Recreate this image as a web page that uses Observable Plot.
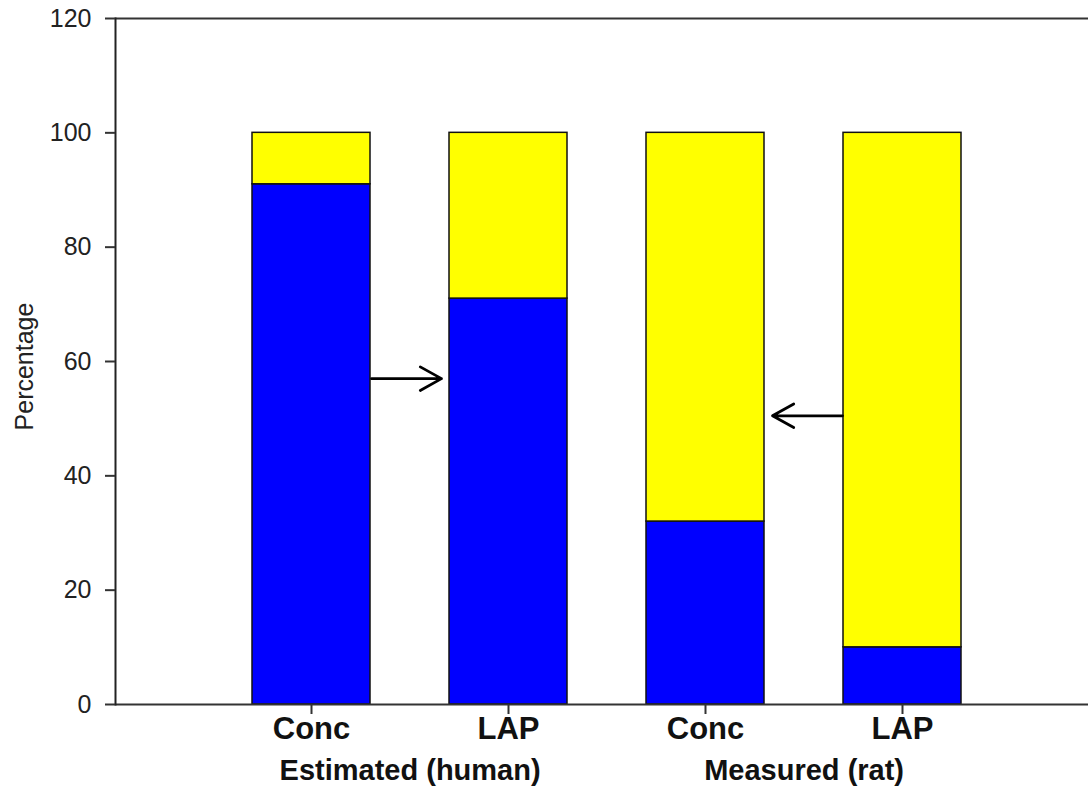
<!DOCTYPE html>
<html><head><meta charset="utf-8">
<script src="https://cdn.jsdelivr.net/npm/d3@7"></script>
<script src="https://cdn.jsdelivr.net/npm/@observablehq/plot@0.6"></script>
<style>
  body { margin: 0; background: #fff; }
  #chart svg { display: block; }
</style>
</head><body><div id="chart"></div>
<script>
// ---- data ----
const groups = ["Estimated (human)", "Estimated (human)", "Measured (rat)", "Measured (rat)"];
const categories = ["Conc", "LAP", "Conc", "LAP"];
const seriesNames = ["Lower", "Upper"];
const lowerValues = [91, 71, 32, 10];
const upperValues = [9, 29, 68, 90];
const yTicks = [0, 20, 40, 60, 80, 100, 120];
const groupNames = ["Estimated (human)", "Measured (rat)"];
// arrows: from bar index -> to bar index, at percentage level
const arrowFrom = [0, 3];
const arrowTo = [1, 2];
const arrowLevel = [57, 50.5];

// ---- build tables ----
const keys = categories.map((c, i) => groups[i] + "|" + c);
const rows = [];
keys.forEach((k, i) => {
  rows.push({key: k, series: seriesNames[0], value: lowerValues[i]});
});
keys.forEach((k, i) => {
  rows.push({key: k, series: seriesNames[1], value: upperValues[i]});
});
const arrows = arrowFrom.map((f, i) => ({from: keys[f], to: keys[arrowTo[i]], y: arrowLevel[i]}));
const groupLabels = groupNames.map(g => ({name: g, key: keys[groups.indexOf(g)]}));

const W = 1088, H = 788;
const mL = 115, mR = 0, mT = 18, mB = 84;
const padIn = 0.4, padOut = 0.667, align = 0.52;
const step = (W - mL - mR) / (keys.length - padIn + 2 * padOut);

const font = "'Liberation Sans', Arial, Helvetica, sans-serif";

const chart = Plot.plot({
  width: W, height: H,
  marginLeft: mL, marginRight: mR, marginTop: mT, marginBottom: mB,
  style: {fontFamily: font, background: "#fff", color: "#000", overflow: "visible"},
  x: {domain: keys, paddingInner: padIn, paddingOuter: padOut, align: align, axis: null},
  y: {domain: [0, 120], axis: null},
  color: {domain: seriesNames, range: ["#0000ff", "#ffff00"]},
  marks: [
    Plot.barY(rows, Plot.stackY({x: "key", y: "value", fill: "series", stroke: "#111", strokeWidth: 1.5})),
    Plot.ruleY([0, 120], {stroke: "#333", strokeWidth: 2}),
    Plot.frame({anchor: "left", stroke: "#222", strokeWidth: 2}),
    Plot.axisY(yTicks, {
      tickSize: 10, tickPadding: 14, fontSize: 25, stroke: "#333", strokeWidth: 2,
      fill: "#222", label: null, tickFormat: d => String(d)
    }),
    Plot.axisX({
      tickSize: 10, tickPadding: 2, fontSize: 31, fontWeight: "bold", stroke: "#333", strokeWidth: 2,
      fill: "#111", label: null, tickFormat: k => k.split("|")[1]
    }),
    Plot.text(["Percentage"], {
      frameAnchor: "left", textAnchor: "middle", rotate: -90, dx: -91, dy: 5, text: d => d,
      fontSize: 25, fill: "#222", lineAnchor: "middle"
    }),
    Plot.text(groupLabels, {
      x: "key", text: "name", frameAnchor: "bottom", dx: step / 2, dy: 66,
      fontSize: 29, fontWeight: "bold", fill: "#111", lineAnchor: "middle"
    }),
    Plot.arrow(arrows, {
      x1: "from", x2: "to", y: "y", stroke: "#000", strokeWidth: 2.8,
      headLength: 13, headAngle: 58, insetStart: 60, insetEnd: 67
    })
  ]
});
document.getElementById("chart").appendChild(chart);
</script>
</body></html>
